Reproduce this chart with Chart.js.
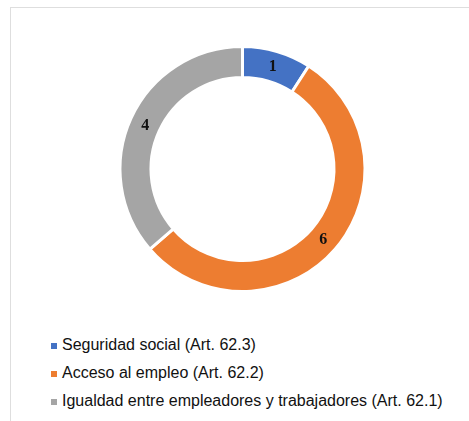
<!DOCTYPE html>
<html>
<head>
<meta charset="utf-8">
<script src="https://cdn.jsdelivr.net/npm/chart.js@4"></script>
<style>
  body { margin: 0; background: #fff; width: 469px; height: 421px; overflow: hidden; position: relative; }
  #frame { position: absolute; left: 10px; top: 7px; right: 0; bottom: 0; border-top: 1px solid #dedede; border-left: 1px solid #dedede; }
  #chart-box { position: absolute; left: 0; top: 0; width: 469px; height: 300px; }
  #legend { position: absolute; left: 51px; top: 333px; margin: 0; padding: 0; list-style: none;
    font-family: "Liberation Sans", Arial, sans-serif; font-size: 16px; color: #111; }
  #legend li { height: 28px; line-height: 24px; white-space: nowrap; }
  #legend span.box { display: inline-block; width: 6px; height: 6px; margin-right: 5px; vertical-align: 1px; }
</style>
</head>
<body>
<div id="frame"></div>
<div id="chart-box"><canvas id="pie-chart"></canvas></div>
<ul id="legend"></ul>
<script>
const categories = [
  "Seguridad social (Art. 62.3)",
  "Acceso al empleo (Art. 62.2)",
  "Igualdad entre empleadores y trabajadores (Art. 62.1)",
];
const values = [1, 6, 4];
const colors = ["#4472C4", "#ED7D31", "#A5A5A5"];

// value labels in the middle of each ring segment
const sliceLabels = {
  id: "sliceLabels",
  afterDatasetsDraw(chart) {
    const ctx = chart.ctx;
    const meta = chart.getDatasetMeta(0);
    ctx.save();
    ctx.font = "bold 16px 'Liberation Serif', 'Times New Roman', serif";
    ctx.fillStyle = "#111";
    ctx.textAlign = "center";
    ctx.textBaseline = "middle";
    meta.data.forEach((arc, i) => {
      const pos = arc.tooltipPosition();
      ctx.fillText(String(chart.data.datasets[0].data[i]), pos.x, pos.y + 1);
    });
    ctx.restore();
  },
};

var ctx = document.getElementById("pie-chart").getContext("2d");
var pieChart = new Chart(ctx, {
  type: "doughnut",
  data: {
    labels: categories,
    datasets: [
      {
        data: values,
        backgroundColor: colors,
        borderColor: "#fff",
        borderWidth: 3,
        hoverOffset: 0,
      },
    ],
  },
  options: {
    responsive: true,
    maintainAspectRatio: false,
    animation: false,
    radius: 122.5,
    cutout: "74.7%",
    layout: { padding: { left: 16, right: 0, top: 38, bottom: 0 } },
    plugins: {
      legend: { display: false },
      tooltip: { enabled: false },
    },
  },
  plugins: [sliceLabels],
});

// legend below the chart, one entry per line
const legendEl = document.getElementById("legend");
categories.forEach((name, i) => {
  const li = document.createElement("li");
  const box = document.createElement("span");
  box.className = "box";
  box.style.background = colors[i];
  li.appendChild(box);
  li.appendChild(document.createTextNode(name));
  legendEl.appendChild(li);
});
</script>
</body>
</html>
